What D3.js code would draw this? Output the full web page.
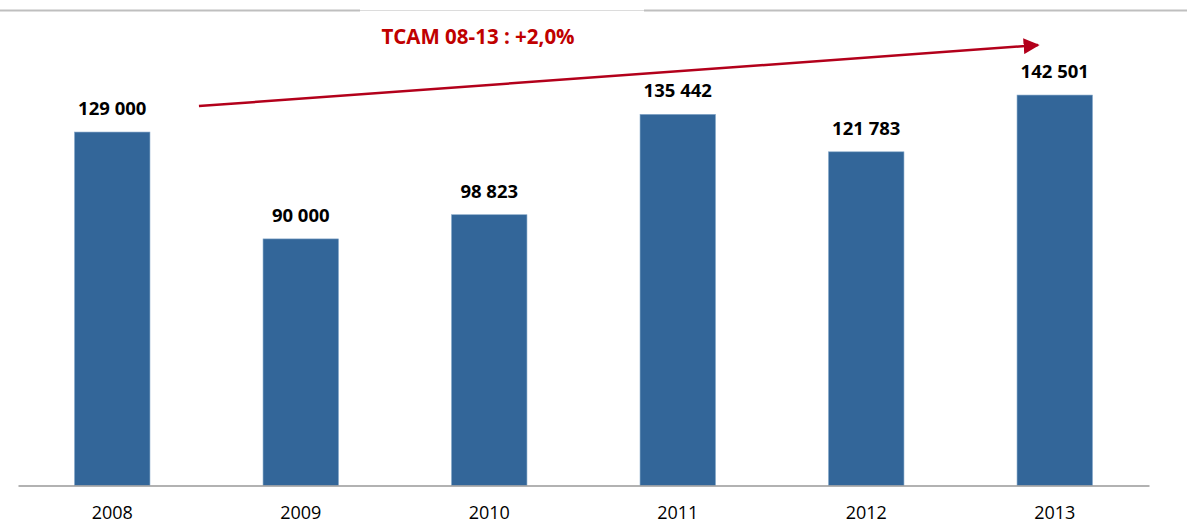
<!DOCTYPE html>
<html>
<head>
<meta charset="utf-8">
<script src="https://cdn.jsdelivr.net/npm/d3@7"></script>
<style>
  html, body { margin: 0; padding: 0; background: #fff; }
  svg { display: block; }
</style>
</head>
<body>
<svg></svg>
<script>
'use strict';

const svgWidth = 1187;
const svgHeight = 525;

const years = ['2008', '2009', '2010', '2011', '2012', '2013'];
const values = [129000, 90000, 98823, 135442, 121783, 142501];
const valueLabels = ['129 000', '90 000', '98 823', '135 442', '121 783', '142 501'];
const growthLabel = 'TCAM 08-13 : +2,0%';

const fontStack = '"Open Sans", "Noto Sans", sans-serif';

const svg = d3.select('svg')
  .attr('width', svgWidth)
  .attr('height', svgHeight)
  .attr('font-family', fontStack);

const x = d3.scaleBand()
  .domain(years)
  .range([18, 1149])
  .paddingInner(0.6)
  .paddingOuter(0.3);

const y = d3.scaleLinear()
  .domain([0, 173000])
  .range([485.5, 11.5]);

// thin frame line at the top
svg.append('line')
  .attr('x1', 0).attr('x2', 360)
  .attr('y1', 10.5).attr('y2', 10.5)
  .attr('stroke', '#bfbfbf').attr('stroke-width', 2);
svg.append('line')
  .attr('x1', 360).attr('x2', 644)
  .attr('y1', 10.5).attr('y2', 10.5)
  .attr('stroke', '#dcdcdc').attr('stroke-width', 1);
svg.append('line')
  .attr('x1', 644).attr('x2', svgWidth)
  .attr('y1', 10.5).attr('y2', 10.5)
  .attr('stroke', '#bfbfbf').attr('stroke-width', 2);

const data = years.map((yr, i) => ({ year: yr, value: values[i], label: valueLabels[i] }));

svg.append('g')
  .selectAll('rect')
  .data(data)
  .join('rect')
  .attr('x', d => x(d.year))
  .attr('y', d => y(d.value))
  .attr('width', x.bandwidth())
  .attr('height', d => y(0) - y(d.value))
  .attr('fill', '#336699')
  .attr('stroke', '#7fa3c6')
  .attr('stroke-width', 0.6);

svg.append('g')
  .selectAll('text')
  .data(data)
  .join('text')
  .attr('x', d => x(d.year) + x.bandwidth() / 2)
  .attr('y', d => y(d.value) - 17)
  .attr('text-anchor', 'middle')
  .attr('font-size', 18.5)
  .attr('font-weight', 'bold')
  .attr('fill', '#000')
  .text(d => d.label);

// x axis
const xAxis = svg.append('g')
  .attr('transform', `translate(0,${y(0)})`)
  .call(d3.axisBottom(x).tickSize(0).tickPadding(21));

xAxis.select('.domain')
  .attr('stroke', '#999')
  .attr('stroke-width', 1.5);

xAxis.selectAll('text')
  .attr('font-family', fontStack)
  .attr('font-size', 18)
  .attr('fill', '#000');

// growth arrow
svg.append('defs').append('marker')
  .attr('id', 'arrowHead')
  .attr('viewBox', '0 0 10 10')
  .attr('refX', 9)
  .attr('refY', 5)
  .attr('markerUnits', 'userSpaceOnUse')
  .attr('markerWidth', 16)
  .attr('markerHeight', 16)
  .attr('orient', 'auto')
  .append('path')
  .attr('d', 'M0,0 L10,5 L0,10 Z')
  .attr('fill', '#b3001b');

const x0 = x('2008') + x.bandwidth() + 49;
const y0 = y(values[0]) - 26;
const x1 = x('2013') + 21;
const y1 = y(values[5]) - 50;

svg.append('line')
  .attr('x1', x0).attr('y1', y0)
  .attr('x2', x1).attr('y2', y1)
  .attr('stroke', '#b3001b')
  .attr('stroke-width', 2.5)
  .attr('marker-end', 'url(#arrowHead)');

svg.append('text')
  .attr('x', 478)
  .attr('y', 43.5)
  .attr('text-anchor', 'middle')
  .attr('font-size', 20.5)
  .attr('font-weight', 'bold')
  .attr('fill', '#c00000')
  .text(growthLabel);
</script>
</body>
</html>
